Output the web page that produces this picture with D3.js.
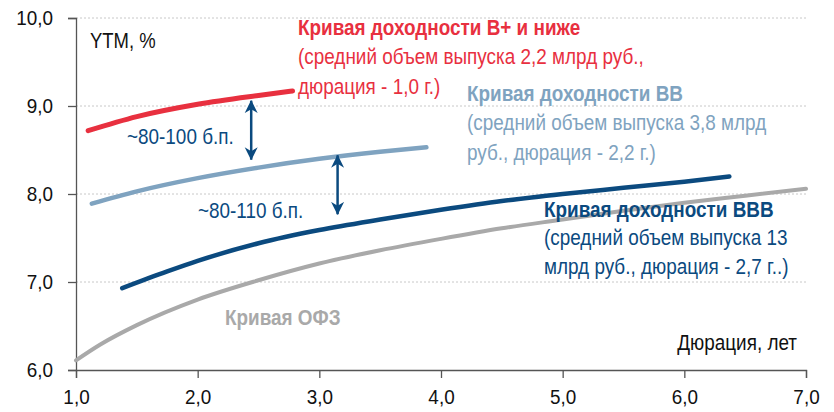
<!DOCTYPE html>
<html>
<head>
<meta charset="utf-8">
<script src="https://cdn.jsdelivr.net/npm/d3@7"></script>
<style>
  body { margin: 0; background: #fff; }
  svg { display: block; font-family: "Liberation Sans", Arial, sans-serif; }
</style>
</head>
<body>
<svg id="chart" width="834" height="412"></svg>
<script>
// Yield curves (duration, years -> YTM, %)
const ofzX = [1.0, 1.2, 1.5, 2.0, 2.5, 3.0, 3.5, 4.0, 4.5, 5.0, 5.5, 6.0, 6.5, 7.0];
const ofzY = [6.11, 6.29, 6.51, 6.80, 7.02, 7.21, 7.36, 7.49, 7.61, 7.71, 7.81, 7.90, 7.98, 8.06];

const bbbX = [1.38, 1.75, 2.0, 2.5, 3.0, 3.5, 4.0, 4.5, 5.0, 5.5, 6.0, 6.37];
const bbbY = [6.93, 7.12, 7.24, 7.44, 7.59, 7.71, 7.82, 7.92, 8.00, 8.07, 8.14, 8.20];

const bbX = [1.13, 1.5, 2.0, 2.5, 3.0, 3.5, 3.88];
const bbY = [7.89, 8.03, 8.18, 8.30, 8.40, 8.48, 8.53];

const bPlusX = [1.1, 1.5, 2.0, 2.5, 2.78];
const bPlusY = [8.72, 8.88, 9.02, 9.12, 9.17];

// spread arrows
const arrowX = [2.44, 3.15];
const arrowFrom = [9.06, 8.44];
const arrowTo = [8.39, 7.77];

const xTicks = [1, 2, 3, 4, 5, 6, 7];
const yTicks = [6, 7, 8, 9, 10];

const RED = '#e8303f', LIGHT = '#7fa3c0', DARK = '#0b4a7f', GRAY = '#a9a9a9';
const SX = 0.9;   // narrow the tick font horizontally
const SXT = 0.86; // narrow the annotation font

const svg = d3.select('#chart');
const x = d3.scaleLinear().domain([1, 7]).range([76, 806]);
const y = d3.scaleLinear().domain([6, 10]).range([370, 18]);
const fmt = d => d.toFixed(1).replace('.', ',');

// gridlines
svg.append('g')
  .selectAll('line')
  .data(yTicks.slice(1))
  .enter()
  .append('line')
    .attr('x1', x(1)).attr('x2', x(7))
    .attr('y1', d => y(d)).attr('y2', d => y(d))
    .attr('stroke', '#c8c8c8')
    .attr('stroke-width', 1)
    .attr('stroke-dasharray', '2,2');

// axes
const xAxis = svg.append('g')
  .attr('transform', 'translate(0,' + y(6) + ')')
  .call(d3.axisBottom(x).tickValues(xTicks).tickSize(8).tickPadding(11).tickFormat(fmt));
const yAxis = svg.append('g')
  .attr('transform', 'translate(' + x(1) + ',0)')
  .call(d3.axisLeft(y).tickValues(yTicks).tickSize(8).tickPadding(15).tickFormat(fmt));

[xAxis, yAxis].forEach(a => {
  a.select('.domain').attr('stroke', '#555').attr('stroke-width', 1.3);
  a.selectAll('.tick line').attr('stroke', '#555').attr('stroke-width', 1.3);
  a.selectAll('.tick text')
    .attr('fill', '#111')
    .style('font-size', '21px')
    .style('font-family', '"Liberation Sans", Arial, sans-serif');
});
xAxis.selectAll('.tick text').attr('transform', 'scale(' + SX + ',1)');
yAxis.selectAll('.tick text')
  .attr('x', -23 / SX)
  .attr('transform', 'scale(' + SX + ',1)');

// curves
const line = d3.line()
  .x(d => x(d[0]))
  .y(d => y(d[1]))
  .curve(d3.curveMonotoneX);

const series = [
  { xs: ofzX, ys: ofzY, color: GRAY, width: 4 },
  { xs: bbbX, ys: bbbY, color: DARK, width: 4.5 },
  { xs: bbX, ys: bbY, color: LIGHT, width: 4.5 },
  { xs: bPlusX, ys: bPlusY, color: RED, width: 5 }
];

series.forEach(s => {
  svg.append('path')
    .datum(s.xs.map((v, i) => [v, s.ys[i]]))
    .attr('d', line)
    .attr('fill', 'none')
    .attr('stroke', s.color)
    .attr('stroke-width', s.width)
    .attr('stroke-linecap', 'round');
});

// double arrows
const defs = svg.append('defs');
defs.append('marker')
  .attr('id', 'head')
  .attr('viewBox', '0 0 10 10')
  .attr('refX', 9.5).attr('refY', 5)
  .attr('markerWidth', 13).attr('markerHeight', 14)
  .attr('markerUnits', 'userSpaceOnUse')
  .attr('orient', 'auto-start-reverse')
  .append('path')
    .attr('d', 'M0,0 L10,5 L0,10 L3,5 Z')
    .attr('fill', DARK);

svg.append('g')
  .selectAll('line')
  .data(arrowX)
  .enter()
  .append('line')
    .attr('x1', d => x(d)).attr('x2', d => x(d))
    .attr('y1', (d, i) => y(arrowFrom[i]))
    .attr('y2', (d, i) => y(arrowTo[i]))
    .attr('stroke', DARK)
    .attr('stroke-width', 2.5)
    .attr('marker-start', 'url(#head)')
    .attr('marker-end', 'url(#head)');

// text labels
const addText = (lines, px, py, color, size, weight, lh, anchor) => {
  const t = svg.append('text')
    .attr('transform', 'translate(' + px + ',' + py + ') scale(' + SXT + ',1)')
    .attr('fill', color)
    .attr('text-anchor', anchor || 'start')
    .style('font-size', size + 'px');
  lines.forEach((l, i) => {
    t.append('tspan')
      .attr('x', 0)
      .attr('y', i * lh)
      .style('font-weight', (weight && i === 0) ? 'bold' : 'normal')
      .text(l);
  });
};

addText(['YTM, %'], 90, 48, '#111', 21.5);
addText(['Дюрация, лет'], 797, 350, '#111', 22, false, 0, 'end');

addText(['Кривая доходности В+ и ниже',
         '(средний объем выпуска 2,2 млрд руб.,',
         'дюрация - 1,0 г.)'], 298, 35, RED, 22, true, 29.5);

addText(['Кривая доходности ВВ',
         '(средний объем выпуска 3,8 млрд',
         'руб., дюрация - 2,2 г.)'], 467, 101, LIGHT, 22, true, 29.5);

addText(['Кривая доходности ВВВ',
         '(средний объем выпуска 13',
         'млрд руб., дюрация - 2,7 г..)'], 544, 217, DARK, 22, true, 28.5);

addText(['Кривая ОФЗ'], 225, 325, GRAY, 22, true, 0);

addText(['~80-100 б.п.'], 127, 144, DARK, 22);
addText(['~80-110 б.п.'], 198, 218, DARK, 22);
</script>
</body>
</html>
